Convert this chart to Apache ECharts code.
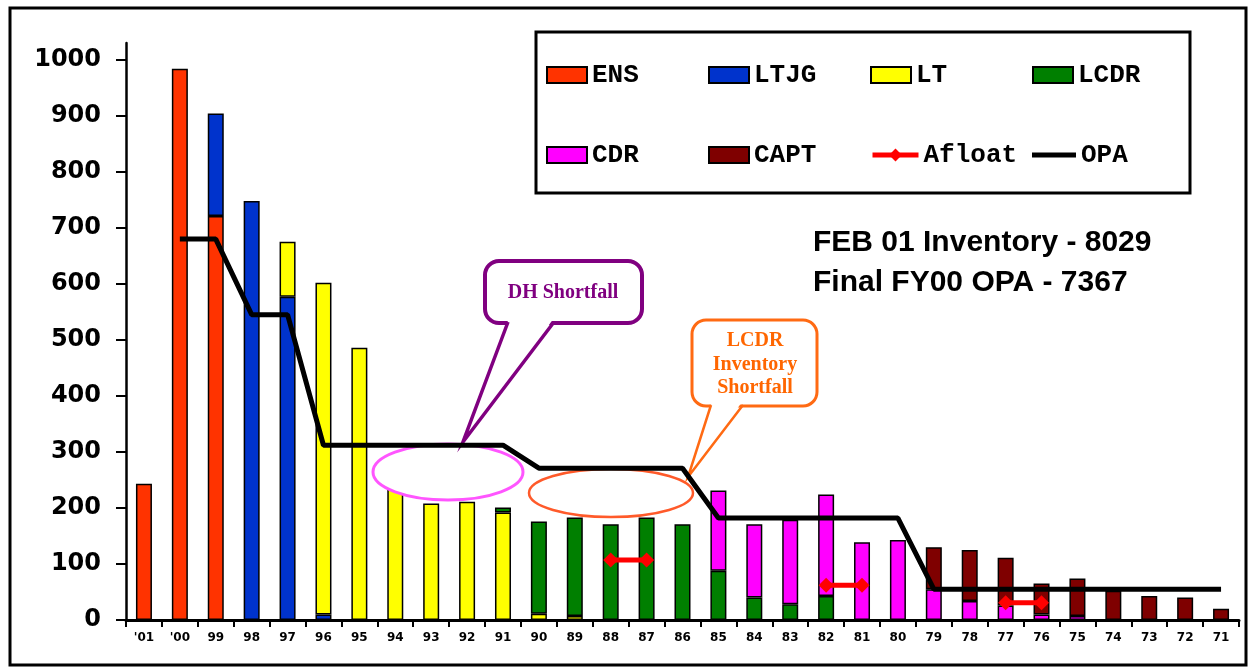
<!DOCTYPE html>
<html>
<head>
<meta charset="utf-8">
<script src="https://cdn.jsdelivr.net/npm/echarts@6/dist/echarts.min.js"></script>
<style>
  html, body { margin: 0; padding: 0; background: #fff; }
  #chart { width: 1249px; height: 667px; }
</style>
</head>
<body>
<div id="chart"></div>
<script>
// Year groups, newest on the left
const years = ["'01", "'00", "99", "98", "97", "96", "95", "94", "93", "92", "91", "90", "89", "88", "87", "86",
               "85", "84", "83", "82", "81", "80", "79", "78", "77", "76", "75", "74", "73", "72", "71"];

// Inventory by rank (stacked), one entry per year group
const ens  = [243, 984, 721, null, null, null, null, null, null, null, null, null, null, null, null, null,
              null, null, null, null, null, null, null, null, null, null, null, null, null, null, null];
const ltjg = [null, null, 183, 748, 577, 10, null, null, null, null, null, null, null, null, null, null,
              null, null, null, null, null, null, null, null, null, null, null, null, null, null, null];
const lt   = [null, null, null, null, 98, 592, 486, 240, 208, 211, 192, 11, 7, null, null, null,
              null, null, null, null, null, null, null, null, null, null, null, null, null, null, null];
const lcdr = [null, null, null, null, null, null, null, null, null, null, 9, 165, 176, 171, 183, 171,
              88, 40, 28, 43, null, null, null, null, null, null, null, null, null, null, null];
const cdr  = [null, null, null, null, null, null, null, null, null, null, null, null, null, null, null, null,
              143, 131, 151, 181, 139, 143, 55, 34, 26, 10, 7, null, null, null, null];
const capt = [null, null, null, null, null, null, null, null, null, null, null, null, null, null, null, null,
              null, null, null, null, null, null, 75, 91, 85, 55, 67, 52, 43, 40, 20];

// Afloat requirement segments and OPA step line
const afloat = [null, null, null, null, null, null, null, null, null, null, null, null, null, 107, 107, null,
                null, null, null, 62, 62, null, null, null, 31, 31, null, null, null, null, null];
const opa    = [null, 680, 680, 545, 545, 312, 312, 312, 312, 312, 312, 271, 271, 271, 271, 271,
                182, 182, 182, 182, 182, 182, 55, 55, 55, 55, 55, 55, 55, 55, 55];

const yTicks = [0, 100, 200, 300, 400, 500, 600, 700, 800, 900, 1000];

const rankNames  = ['ENS', 'LTJG', 'LT', 'LCDR', 'CDR', 'CAPT'];
const rankColors = ['#ff3300', '#0033cc', '#ffff00', '#007f00', '#ff00ff', '#7f0000'];
const rankData   = [ens, ltjg, lt, lcdr, cdr, capt];

const chart = echarts.init(document.getElementById('chart'), null, { renderer: 'canvas' });

const barSeries = rankNames.map((name, i) => ({
  name: name,
  type: 'bar',
  stack: 'inventory',
  barWidth: 16,
  data: rankData[i],
  itemStyle: { color: rankColors[i], borderColor: '#000', borderWidth: 1.5 },
  z: 2
}));

const legendFont = { fontFamily: 'Liberation Mono', fontWeight: 'bold', fontSize: 26, color: '#000', lineHeight: 30 };
const legendNames = ['ENS', 'LTJG', 'LT', 'LCDR', 'CDR', 'CAPT', 'Afloat', 'OPA'];
const legendCols = [546, 708, 870, 1032];
const legendRows = [60, 140];
const legends = legendNames.map((n, i) => {
  const item = { data: [n], left: legendCols[i % 4], top: legendRows[Math.floor(i / 4)], padding: 0,
                 itemWidth: 40, itemHeight: 16, icon: 'rect', selectedMode: false, textStyle: legendFont };
  if (n === 'Afloat') {
    item.icon = undefined;
    item.itemWidth = 46;
    item.lineStyle = { width: 5 };
  } else if (n === 'OPA') {
    item.itemWidth = 44;
    item.itemHeight = 5;
    item.itemStyle = { color: '#000', borderWidth: 0 };
  }
  return item;
});

const purple = '#800080';
const orange = '#ff6a13';

chart.setOption({
  animation: false,
  backgroundColor: '#fff',
  grid: { left: 126, right: 10, top: 43, bottom: 47, containLabel: false },
  legend: legends,
  xAxis: {
    type: 'category',
    data: years,
    boundaryGap: true,
    axisLine: { lineStyle: { color: '#000', width: 3 } },
    axisTick: { show: true, length: 7, lineStyle: { color: '#000', width: 2 } },
    axisLabel: { color: '#000', fontFamily: 'DejaVu Sans', fontWeight: 'bold', fontSize: 12, margin: 12, interval: 0 }
  },
  yAxis: {
    type: 'value',
    min: 0,
    max: 1030,
    axisLine: { show: true, lineStyle: { color: '#000', width: 2.5 } },
    axisTick: { show: true, length: 10, customValues: yTicks, lineStyle: { color: '#000', width: 2 } },
    axisLabel: { customValues: yTicks, formatter: v => String(v), color: '#000', fontFamily: 'DejaVu Sans',
                 fontWeight: 'bold', fontSize: 24, margin: 25 },
    splitLine: { show: false }
  },
  series: barSeries.concat([
    {
      name: 'Afloat',
      type: 'line',
      data: afloat,
      connectNulls: false,
      symbol: 'diamond',
      symbolSize: 15,
      showAllSymbol: true,
      lineStyle: { color: '#ff0000', width: 5 },
      itemStyle: { color: '#ff0000' },
      z: 6
    },
    {
      name: 'OPA',
      type: 'line',
      data: opa,
      symbol: 'none',
      lineStyle: { color: '#000', width: 5 },
      itemStyle: { color: '#000' },
      z: 5
    }
  ]),
  graphic: [
    // outer frame
    { type: 'rect', z: 0, silent: true, shape: { x: 10, y: 8, width: 1236, height: 657 },
      style: { fill: 'none', stroke: '#000', lineWidth: 3 } },
    // legend frame
    { type: 'rect', z: 1, silent: true, shape: { x: 536, y: 32, width: 654, height: 161 },
      style: { fill: '#fff', stroke: '#000', lineWidth: 3 } },
    // summary text
    { type: 'text', z: 3, silent: true,
      style: { text: 'FEB 01 Inventory - 8029', x: 813, y: 243, font: 'bold 30px "Liberation Sans", Arial, sans-serif',
               fill: '#000', textAlign: 'left', textVerticalAlign: 'middle' } },
    { type: 'text', z: 3, silent: true,
      style: { text: 'Final FY00 OPA - 7367', x: 813, y: 283, font: 'bold 30px "Liberation Sans", Arial, sans-serif',
               fill: '#000', textAlign: 'left', textVerticalAlign: 'middle' } },
    // highlighted shortfall regions
    { type: 'ellipse', z: 3, silent: true, shape: { cx: 448, cy: 472, rx: 75, ry: 28 },
      style: { fill: '#fff', stroke: '#ff55ff', lineWidth: 3 } },
    { type: 'ellipse', z: 3, silent: true, shape: { cx: 611, cy: 493, rx: 82, ry: 24 },
      style: { fill: '#fff', stroke: '#ff5a2a', lineWidth: 2.5 } },
    // DH callout
    { type: 'rect', z: 3, silent: true, shape: { x: 485, y: 261, width: 157, height: 62, r: 14 },
      style: { fill: '#fff', stroke: purple, lineWidth: 4 } },
    { type: 'polygon', z: 3, silent: true, shape: { points: [[509, 318], [463, 442], [554, 318]] },
      style: { fill: '#fff' } },
    { type: 'polyline', z: 3, silent: true, shape: { points: [[508, 322], [463, 442], [554, 322]] },
      style: { stroke: purple, lineWidth: 3.5, fill: 'none' } },
    { type: 'text', z: 3, silent: true,
      style: { text: 'DH Shortfall', x: 563, y: 293, font: 'bold 20px "Liberation Serif", "Times New Roman", serif',
               fill: purple, textAlign: 'center', textVerticalAlign: 'middle' } },
    // LCDR callout
    { type: 'rect', z: 3, silent: true, shape: { x: 692, y: 320, width: 125, height: 86, r: 14 },
      style: { fill: '#fff', stroke: orange, lineWidth: 3 } },
    { type: 'polygon', z: 3, silent: true, shape: { points: [[712, 402], [688, 477], [742, 402]] },
      style: { fill: '#fff' } },
    { type: 'polyline', z: 3, silent: true, shape: { points: [[711, 405], [688, 477], [743, 405]] },
      style: { stroke: orange, lineWidth: 2.5, fill: 'none' } },
    { type: 'text', z: 3, silent: true,
      style: { text: 'LCDR', x: 755, y: 341, font: 'bold 20px "Liberation Serif", "Times New Roman", serif',
               fill: '#ff6600', textAlign: 'center', textVerticalAlign: 'middle' } },
    { type: 'text', z: 3, silent: true,
      style: { text: 'Inventory', x: 755, y: 365, font: 'bold 20px "Liberation Serif", "Times New Roman", serif',
               fill: '#ff6600', textAlign: 'center', textVerticalAlign: 'middle' } },
    { type: 'text', z: 3, silent: true,
      style: { text: 'Shortfall', x: 755, y: 388, font: 'bold 20px "Liberation Serif", "Times New Roman", serif',
               fill: '#ff6600', textAlign: 'center', textVerticalAlign: 'middle' } }
  ]
});
</script>
</body>
</html>
